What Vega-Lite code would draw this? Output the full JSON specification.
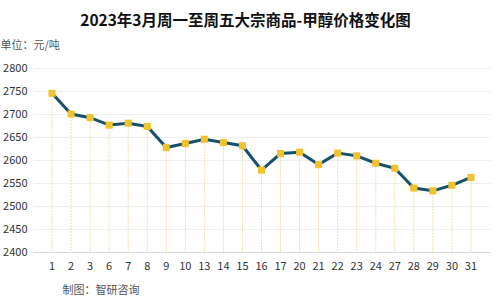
{
  "$schema": "https://vega.github.io/schema/vega-lite/v6.json",
  "width": 457,
  "height": 184,
  "autosize": {"type": "none"},
  "padding": {"left": 33, "top": 68, "right": 10, "bottom": 48},
  "background": "white",
  "config": {
    "font": "Noto Sans CJK SC",
    "view": {"stroke": null}
  },
  "title": {
    "text": "2023年3月周一至周五大宗商品-甲醇价格变化图",
    "fontSize": 15.5,
    "fontWeight": "bold",
    "color": "#111111",
    "anchor": "middle",
    "offset": 10,
    "dx": -16
  },
  "data": {
    "values": [
      {"day": "1", "price": 2745},
      {"day": "2", "price": 2700},
      {"day": "3", "price": 2692},
      {"day": "6", "price": 2676},
      {"day": "7", "price": 2680},
      {"day": "8", "price": 2673},
      {"day": "9", "price": 2627},
      {"day": "10", "price": 2636},
      {"day": "13", "price": 2645},
      {"day": "14", "price": 2638},
      {"day": "15", "price": 2631},
      {"day": "16", "price": 2578},
      {"day": "17", "price": 2614},
      {"day": "20", "price": 2617},
      {"day": "21", "price": 2590},
      {"day": "22", "price": 2615},
      {"day": "23", "price": 2609},
      {"day": "24", "price": 2593},
      {"day": "27", "price": 2582},
      {"day": "28", "price": 2539},
      {"day": "29", "price": 2533},
      {"day": "30", "price": 2545},
      {"day": "31", "price": 2562}
    ]
  },
  "encoding": {
    "x": {
      "field": "day",
      "type": "ordinal",
      "sort": null,
      "scale": {"paddingInner": 0, "paddingOuter": 0.5},
      "axis": {
        "title": "制图：智研咨询",
        "titleAlign": "left",
        "titleBaseline": "middle",
        "titleX": 29,
        "titleY": 38,
        "titleFontSize": 11,
        "titleFontWeight": "normal",
        "titleColor": "#555555",
        "labelAngle": 0,
        "labelFontSize": 11,
        "labelColor": "#333333",
        "labelPadding": 8,
        "ticks": false,
        "domainColor": "#d9d9d9",
        "domainWidth": 1
      }
    },
    "y": {
      "field": "price",
      "type": "quantitative",
      "scale": {"domain": [2400, 2800], "zero": false},
      "axis": {
        "title": "单位：元/吨",
        "titleAngle": 0,
        "titleAlign": "left",
        "titleBaseline": "middle",
        "titleX": -33,
        "titleY": -23,
        "titleFontSize": 11,
        "titleFontWeight": "normal",
        "titleColor": "#555555",
        "values": [2400, 2450, 2500, 2550, 2600, 2650, 2700, 2750, 2800],
        "format": "d",
        "labelFontSize": 11,
        "labelColor": "#333333",
        "labelPadding": 6,
        "ticks": false,
        "domain": false,
        "gridColor": "#eeeeee",
        "gridWidth": 1
      }
    }
  },
  "layer": [
    {
      "mark": {"type": "rule", "color": "#f3dfa6", "strokeWidth": 1, "strokeDash": [2, 1]},
      "encoding": {
        "y2": {"datum": 2400}
      }
    },
    {
      "mark": {"type": "line", "color": "#17506b", "strokeWidth": 3},
      "encoding": {}
    },
    {
      "mark": {"type": "point", "shape": "square", "filled": true, "color": "#f2c12e", "size": 50, "opacity": 1},
      "encoding": {}
    }
  ]
}
